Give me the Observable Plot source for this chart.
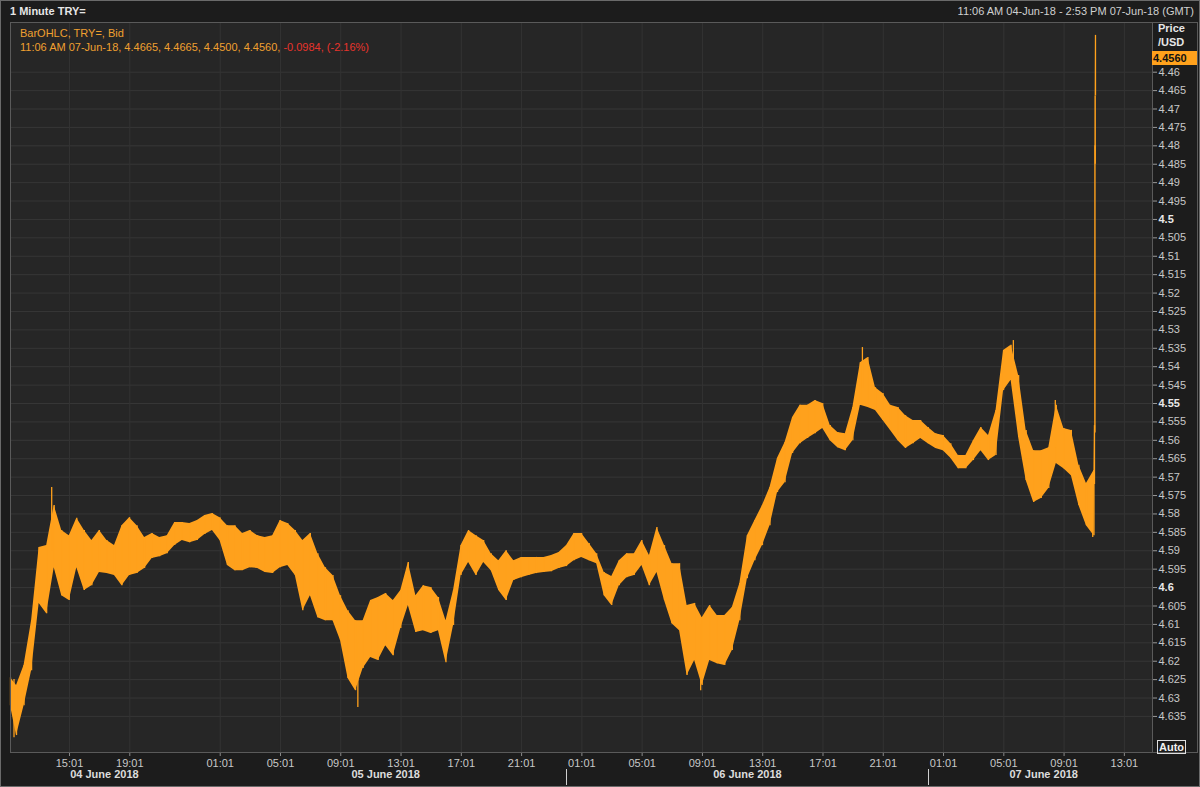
<!DOCTYPE html>
<html><head><meta charset="utf-8">
<script src="https://cdn.jsdelivr.net/npm/d3@7"></script>
<script src="https://cdn.jsdelivr.net/npm/@observablehq/plot@0.6"></script>
<style>
html,body{margin:0;padding:0;background:#1c1c1c;}
#wrap{position:relative;width:1200px;height:787px;overflow:hidden;font-family:"Liberation Sans",Arial,sans-serif;font-size:11px;color:#cfcfcf;}
#wrap svg{position:absolute;left:0;top:0;}
.t{position:absolute;white-space:nowrap;}
</style></head>
<body><div id="wrap"></div>
<script>
// ---- data ----
const times = ["04 11:06","04 11:30","04 12:00","04 12:30","04 13:00","04 13:30","04 14:00","04 14:30","04 15:00","04 15:30","04 16:00","04 16:30","04 17:00","04 17:30","04 18:00","04 18:30","04 19:00","04 19:30","04 20:00","04 20:30","04 21:00","04 21:30","04 22:00","04 22:30","04 23:00","04 23:30",
"05 00:00","05 00:30","05 01:00","05 01:30","05 02:00","05 02:30","05 03:00","05 03:30","05 04:00","05 04:30","05 05:00","05 05:30","05 06:00","05 06:30","05 07:00","05 07:30","05 08:00","05 08:30","05 09:00","05 09:30","05 10:00","05 10:30","05 11:00","05 11:30","05 12:00","05 12:30","05 13:00","05 13:30","05 14:00","05 14:30","05 15:00","05 15:30","05 16:00","05 16:30","05 17:00","05 17:30","05 18:00","05 18:30","05 19:00","05 19:30","05 20:00","05 20:30","05 21:00","05 21:30","05 22:00","05 22:30","05 23:00","05 23:30",
"06 00:00","06 00:30","06 01:00","06 01:30","06 02:00","06 02:30","06 03:00","06 03:30","06 04:00","06 04:30","06 05:00","06 05:30","06 06:00","06 06:30","06 07:00","06 07:30","06 08:00","06 08:30","06 09:00","06 09:30","06 10:00","06 10:30","06 11:00","06 11:30","06 12:00","06 12:30","06 13:00","06 13:30","06 14:00","06 14:30","06 15:00","06 15:30","06 16:00","06 16:30","06 17:00","06 17:30","06 18:00","06 18:30","06 19:00","06 19:30","06 20:00","06 20:30","06 21:00","06 21:30","06 22:00","06 22:30","06 23:00","06 23:30",
"07 00:00","07 00:30","07 01:00","07 01:30","07 02:00","07 02:30","07 03:00","07 03:30","07 04:00","07 04:30","07 05:00","07 05:30","07 06:00","07 06:30","07 07:00","07 07:30","07 08:00","07 08:30","07 09:00","07 09:30","07 10:00","07 10:30","07 11:00","07 11:02","07 11:04","07 11:05","07 11:06"];
const lows = [4.6245,4.6266,4.6212,4.609,4.5891,4.5886,4.5777,4.5845,4.5859,4.5812,4.5845,4.5872,4.5845,4.5872,4.5886,4.5832,4.581,4.5832,4.5864,4.5853,4.5864,4.5859,4.5823,4.5823,4.5826,4.5818,
4.5804,4.5799,4.581,4.5832,4.5832,4.5853,4.5845,4.5859,4.5864,4.5859,4.5818,4.5826,4.5845,4.5872,4.5853,4.5908,4.5946,4.5967,4.6022,4.6063,4.609,4.609,4.6035,4.6027,4.6016,4.6035,4.6008,4.5932,4.6022,4.5995,4.6,4.6027,4.609,4.6008,4.5886,4.5845,4.5859,4.5872,4.5908,4.5927,4.59,4.5927,4.5918,4.5918,4.5918,4.5918,4.5913,4.5905,
4.5886,4.5853,4.5853,4.588,4.5908,4.5959,4.597,4.5927,4.5908,4.5908,4.5872,4.5913,4.5837,4.5886,4.5935,4.5935,4.6049,4.6043,4.6082,4.6049,4.6076,4.6076,4.6054,4.5989,4.5859,4.5818,4.5777,4.5728,4.5649,4.5606,4.5538,4.5505,4.5505,4.5492,4.55,4.556,4.5579,4.5582,4.5511,4.5389,4.5375,4.5457,4.5473,4.5505,4.5511,4.5533,4.5546,4.5546,
4.5565,4.5582,4.5587,4.5609,4.5641,4.5641,4.5601,4.5565,4.5587,4.5519,4.5356,4.5342,4.5424,4.5573,4.5628,4.5628,4.562,4.5505,4.5568,4.5573,4.5668,4.5717,4.5682,4.556,4.48,4.4665,4.45];
const highs = [4.6321,4.6402,4.6321,4.6226,4.6043,4.6071,4.5946,4.6022,4.6035,4.5946,4.6008,4.5995,4.5959,4.5962,4.5967,4.5995,4.5967,4.5962,4.5948,4.5921,4.5916,4.5908,4.5886,4.5872,4.5878,4.5872,
4.5856,4.5845,4.5872,4.594,4.5954,4.5954,4.5946,4.5948,4.5959,4.5962,4.5946,4.594,4.5967,4.6063,4.6022,4.6082,4.609,4.609,4.6144,4.6247,4.628,4.622,4.619,4.6198,4.6158,4.6185,4.6111,4.6049,4.6122,4.6117,4.6125,4.6117,4.6204,4.6103,4.5967,4.5932,4.5967,4.5932,4.5954,4.6008,4.6035,4.5981,4.5973,4.5967,4.5962,4.5959,4.5957,4.5948,
4.5943,4.5927,4.5918,4.5927,4.5935,4.6022,4.6049,4.5995,4.5973,4.5967,4.594,4.5995,4.5959,4.6035,4.6098,4.6117,4.6239,4.6198,4.6266,4.6198,4.6207,4.6212,4.6171,4.609,4.5976,4.5927,4.5886,4.5832,4.5742,4.5715,4.5636,4.5609,4.5595,4.5582,4.5568,4.5601,4.562,4.5628,4.5601,4.5505,4.5511,4.5519,4.5546,4.5573,4.5601,4.5622,4.5609,4.5595,
4.5609,4.5622,4.5628,4.5649,4.5677,4.5677,4.5655,4.5628,4.5655,4.5641,4.5465,4.5437,4.5592,4.5709,4.5769,4.5758,4.5731,4.5663,4.5677,4.5696,4.5777,4.5832,4.5859,4.572,4.558,4.485,4.4665];
// isolated wicks
const wickTimes = ["04 11:20","04 13:50","05 10:09","06 08:54","06 19:38","07 05:39","07 08:26","07 10:55"];
const wickLows  = [4.625,4.5728,4.615,4.610,4.5348,4.5329,4.5492,4.572];
const wickHighs = [4.6408,4.590,4.6326,4.628,4.546,4.544,4.562,4.5864];
// axes
const yTickLabels = ["4.46","4.465","4.47","4.475","4.48","4.485","4.49","4.495","4.5","4.505","4.51","4.515","4.52","4.525","4.53","4.535","4.54","4.545","4.55","4.555","4.56","4.565","4.57","4.575","4.58","4.585","4.59","4.595","4.6","4.605","4.61","4.615","4.62","4.625","4.63","4.635"];
const yBoldLabels = ["4.5","4.55","4.6"];
const xTickTimes = ["04 15:01","04 19:01","05 01:01","05 05:01","05 09:01","05 13:01","05 17:01","05 21:01","06 01:01","06 05:01","06 09:01","06 13:01","06 17:01","06 21:01","07 01:01","07 05:01","07 09:01","07 13:01"];
const xTickLabels = ["15:01","19:01","01:01","05:01","09:01","13:01","17:01","21:01","01:01","05:01","09:01","13:01","17:01","21:01","01:01","05:01","09:01","13:01"];
const dayLabelTimes = ["04 17:20","05 12:00","06 12:00","07 07:40"];
const dayLabels = ["04 June 2018","05 June 2018","06 June 2018","07 June 2018"];
const daySeparators = ["06 00:00","07 00:00"];
const domainTimes = ["04 11:06","07 14:53"];
const priceDomain = [4.4465, 4.6448];

const parseT = s => { const [d, hm] = s.split(" "); const [h, m] = hm.split(":"); return new Date(Date.UTC(2018, 5, +d, +h, +m)); };
const data = times.map((t, i) => ({t: parseT(t), lo: lows[i], hi: highs[i]}));
const wicks = wickTimes.map((t, i) => ({t: parseT(t), lo: wickLows[i], hi: wickHighs[i]}));
const xTicks = xTickTimes.map(parseT);
const labelOf = new Map(xTicks.map((d, i) => [+d, xTickLabels[i]]));
const yTicks = yTickLabels.map(Number);
const yBold = yBoldLabels.map(Number);
const dayRows = dayLabelTimes.map((t, i) => ({t: parseT(t), label: dayLabels[i]}));

const ORANGE = "#ffa11c";
const chart = Plot.plot({
  width: 1200, height: 787,
  marginLeft: 10, marginRight: 48, marginTop: 22, marginBottom: 35,
  style: {background: "transparent", fontFamily: "Liberation Sans, Arial, sans-serif", fontSize: "11px", color: "#c8c8c8"},
  x: {type: "utc", domain: domainTimes.map(parseT)},
  y: {domain: priceDomain, reverse: true},
  marks: [
    Plot.frame({fill: "#262626", stroke: null}),
    Plot.gridY(yTicks, {stroke: "#363636", strokeOpacity: 1}),
    Plot.gridX(xTicks, {stroke: "#333333", strokeOpacity: 1}),
    Plot.areaY(data, {x: "t", y1: "lo", y2: "hi", fill: ORANGE, curve: "linear"}),
    Plot.ruleX(data, {x: "t", y1: "lo", y2: "hi", stroke: ORANGE, strokeWidth: 1.3}),
    Plot.ruleX(wicks, {x: "t", y1: "lo", y2: "hi", stroke: ORANGE, strokeWidth: 1.3}),
    Plot.axisY(yTicks.filter(v => !yBold.includes(v)), {anchor: "right", tickSize: 4, tickPadding: 2, textAnchor: "start", tickFormat: d => String(+d.toFixed(3)), fill: "#c8c8c8", stroke: "#9a9a9a", label: null}),
    Plot.axisY(yBold, {anchor: "right", tickSize: 4, tickPadding: 2, textAnchor: "start", tickFormat: d => String(+d.toFixed(3)), fill: "#e8e8e8", stroke: "#9a9a9a", fontWeight: "bold", label: null}),
    Plot.axisX(xTicks, {anchor: "bottom", tickSize: 4, tickPadding: 3, tickFormat: d => labelOf.get(+d), fill: "#c8c8c8", stroke: "#8a8a8a", label: null}),
    Plot.text(dayRows, {x: "t", text: "label", frameAnchor: "bottom", dy: 25, fontWeight: "bold", fill: "#dcdcdc", fontSize: 11}),
    Plot.frame({stroke: "#5a5a5a"})
  ]
});
const wrap = document.getElementById("wrap");
wrap.appendChild(chart);
// day separators below the axis, placed with the plot's own x scale
const sx = chart.scale("x");
const svg = d3.select(chart);
daySeparators.map(parseT).forEach(d => {
  const x = Math.round(sx.apply(d)) + 0.5;
  svg.append("line").attr("x1", x).attr("x2", x).attr("y1", 769).attr("y2", 785).attr("stroke", "#cfcfcf").attr("stroke-width", 1);
});
// outer borders
svg.append("rect").attr("x", 0.5).attr("y", 0.5).attr("width", 1199).attr("height", 786).attr("fill", "none").attr("stroke", "#6a6a6a");
svg.append("line").attr("x1", 1152.5).attr("x2", 1197.5).attr("y1", 752.5).attr("y2", 752.5).attr("stroke", "#5a5a5a");
svg.append("line").attr("x1", 1197.5).attr("x2", 1197.5).attr("y1", 22).attr("y2", 753).attr("stroke", "#5a5a5a");
svg.append("line").attr("x1", 1152.5).attr("x2", 1197.5).attr("y1", 22.5).attr("y2", 22.5).attr("stroke", "#5a5a5a");

const add = (html, css) => { const d = document.createElement("div"); d.className = "t"; d.innerHTML = html; Object.assign(d.style, css); wrap.appendChild(d); };
add("1 Minute TRY=", {left: "10px", top: "5px", fontWeight: "bold", color: "#e6e6e6"});
add("11:06 AM 04-Jun-18 - 2:53 PM 07-Jun-18 (GMT)", {right: "6px", top: "5px", color: "#d0d0d0"});
add("BarOHLC, TRY=, Bid", {left: "20px", top: "27px", color: "#f0a030"});
add("11:06 AM 07-Jun-18, 4.4665, 4.4665, 4.4500, 4.4560, <span style='color:#e8342c'>-0.0984, (-2.16%)</span>", {left: "20px", top: "41px", color: "#f0a030"});
add("Price", {left: "1158px", top: "22px", fontWeight: "bold", color: "#e6e6e6"});
add("/USD", {left: "1158px", top: "36px", fontWeight: "bold", color: "#e6e6e6"});
add("4.4560", {left: "1152px", top: "51px", width: "44px", height: "14px", lineHeight: "14px", background: "#ffa11c", color: "#111", fontWeight: "bold", paddingLeft: "1px"});
add("Auto", {left: "1157px", top: "740px", border: "1px solid #e0e0e0", padding: "0 1px", lineHeight: "12px", fontWeight: "bold", color: "#f0f0f0"});
</script></body></html>
